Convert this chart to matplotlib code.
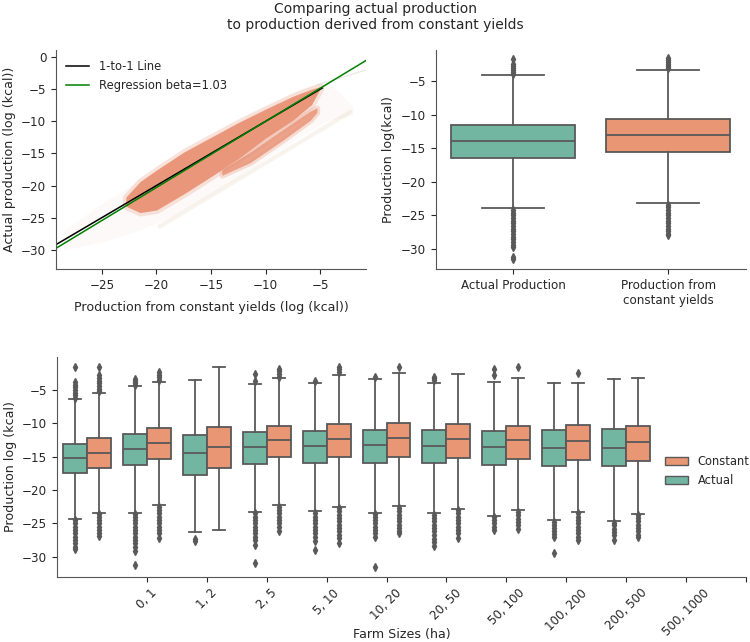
import colorsys
import matplotlib
matplotlib.use("Agg")
import matplotlib.pyplot as plt
import matplotlib.colors as mcolors
from matplotlib.patches import Patch

# ---- data ----
# scatter cloud (drawn as bands): x, upper and lower edge of the dense core
core_x = [-22.8, -21.5, -20.0, -17.5, -15.0, -12.5, -10.0, -7.5, -5.8, -5.0]
core_hi = [-21.8, -19.4, -17.6, -14.8, -12.5, -10.2, -8.1, -6.1, -5.0, -4.6]
core_lo = [-23.2, -24.2, -23.8, -21.3, -18.6, -15.8, -12.6, -9.8, -7.4, -4.9]
# lower branch of the cloud
branch_x = [-14.0, -11.4, -8.4, -5.9, -5.3]
branch_hi = [-17.5, -14.8, -11.3, -8.4, -7.9]
branch_lo = [-18.4, -16.4, -12.9, -9.8, -8.6]
# faint halo around everything
halo_x = [-28.5, -25.0, -22.0, -19.0, -16.0, -13.0, -10.0, -7.0, -4.5, -2.0]
halo_hi = [-27.0, -22.8, -19.6, -16.6, -13.4, -10.5, -7.8, -5.2, -3.6, -7.6]
halo_lo = [-30.0, -28.8, -27.2, -25.2, -22.3, -19.2, -15.8, -12.6, -10.0, -9.0]
streak_x = [-19.7, -2.2]
streak_y = [-26.4, -8.5]
faint_x = [-5.3, -0.8]
faint_y = [-4.35, -2.0]

one_to_one_x = [-29.2, -4.8]
reg_x = [-29.2, -0.8]
reg_beta = 1.03
reg_intercept = 0.3

# overall box plot (Actual, Constant)
overall_labels = ["Actual Production", "Production from\nconstant yields"]
overall_q1 = [-16.45, -15.65]
overall_med = [-13.95, -13.05]
overall_q3 = [-11.55, -10.65]
overall_lo = [-23.95, -23.1]
overall_hi = [-4.1, -3.3]
overall_fliers = [
    [-1.7, -2.5, -2.8, -3.1, -3.4, -3.7, -4.0,
     -24.2, -24.6, -25.0, -25.4, -25.8, -26.2, -26.6, -27.0, -27.4, -27.8,
     -28.2, -28.6, -29.0, -29.4, -29.7, -31.2, -31.5],
    [-1.6, -1.9, -2.2, -2.5, -2.8, -3.1,
     -23.4, -23.8, -24.2, -24.6, -25.0, -25.4, -25.8, -26.2, -26.6, -27.0,
     -27.4, -27.8, -28.0],
]

# by farm size
farm_labels = ["0, 1", "1, 2", "2, 5", "5, 10", "10, 20", "20, 50",
               "50, 100", "100, 200", "200, 500", "500, 1000"]
act_q1 = [-17.5, -16.3, -17.8, -16.1, -15.9, -15.9, -16.0, -16.3, -16.4, -16.45]
act_med = [-15.2, -13.8, -14.5, -13.5, -13.4, -13.25, -13.4, -13.6, -13.65, -13.75]
act_q3 = [-13.1, -11.55, -11.7, -11.25, -11.1, -10.95, -11.05, -11.2, -10.95, -10.9]
act_lo = [-24.3, -23.4, -26.25, -23.3, -23.15, -23.4, -23.45, -23.9, -24.55, -24.65]
act_hi = [-6.35, -4.45, -3.5, -4.1, -3.9, -3.4, -4.0, -3.85, -4.0, -3.4]
act_fliers = [
    [-1.6, -3.8, -4.2, -4.6, -5.0, -5.4, -5.8, -6.2,
     -24.5, -25.0, -25.5, -26.0, -26.5, -27.0, -27.5, -28.0, -28.5, -28.9],
    [-3.4, -3.7, -4.0, -4.3,
     -23.6, -24.0, -24.5, -25.0, -25.5, -26.0, -26.5, -27.0, -27.5, -28.0, -28.5, -29.2, -31.3],
    [-27.4, -27.7],
    [-2.6, -3.6,
     -23.5, -24.0, -24.5, -25.0, -25.5, -26.0, -26.5, -27.0, -27.5, -28.2, -31.0],
    [-3.7,
     -23.4, -24.0, -24.5, -25.0, -25.5, -26.0, -26.5, -27.0, -27.7, -29.0],
    [-3.1,
     -23.6, -24.0, -24.5, -25.0, -25.5, -26.0, -26.5, -27.1, -31.5],
    [-3.0, -3.2, -3.5,
     -23.7, -24.2, -24.7, -25.2, -25.7, -26.2, -26.7, -27.3, -27.8, -28.4],
    [-1.8, -2.7,
     -24.1, -24.5, -25.0, -25.5, -26.0],
    [-24.8, -25.2, -25.7, -26.2, -26.6, -27.0, -29.4],
    [-24.9, -25.3, -25.8, -26.3, -26.8, -27.5],
]
con_q1 = [-16.65, -15.35, -16.75, -15.1, -15.05, -15.0, -15.2, -15.4, -15.45, -15.65]
con_med = [-14.4, -12.9, -13.6, -12.55, -12.4, -12.25, -12.4, -12.5, -12.65, -12.85]
con_q3 = [-12.25, -10.7, -10.6, -10.35, -10.1, -9.9, -10.1, -10.35, -10.3, -10.4]
con_lo = [-23.4, -22.3, -26.0, -22.3, -22.5, -22.45, -22.8, -23.05, -23.25, -23.55]
con_hi = [-5.5, -3.75, -1.6, -3.15, -2.8, -2.4, -2.65, -3.25, -4.0, -3.25]
con_fliers = [
    [-1.5, -2.8, -3.2, -3.6, -4.0, -4.4, -4.8, -5.2,
     -23.6, -24.0, -24.5, -25.0, -25.5, -26.0, -26.5, -26.9],
    [-2.3, -2.7, -3.1, -3.5,
     -22.5, -23.0, -23.5, -24.0, -24.5, -25.0, -25.5, -26.0, -26.5, -27.2],
    [],
    [-1.8, -2.2, -2.6, -3.0,
     -22.5, -23.0, -23.5, -24.0, -24.5, -25.0, -25.5, -26.1],
    [-1.5, -1.9, -2.3,
     -22.7, -23.2, -23.7, -24.2, -24.7, -25.2, -25.7, -26.2, -26.7, -27.2, -27.9],
    [-1.5,
     -22.7, -23.2, -23.7, -24.2, -24.7, -25.2, -25.7, -26.1, -26.5],
    [-23.0, -23.5, -24.0, -24.5, -25.0, -25.5, -26.0, -26.5, -27.2],
    [-1.6,
     -23.3, -23.8, -24.3, -24.8, -25.3, -25.8],
    [-2.4,
     -23.5, -24.0, -24.5, -25.0, -25.5, -26.0, -26.5, -27.0, -27.5],
    [-23.8, -24.2, -24.7, -25.2, -25.7, -26.2, -26.7, -27.1],
]


def desat(c, prop=0.75):
    h, l, s = colorsys.rgb_to_hls(*mcolors.to_rgb(c))
    return colorsys.hls_to_rgb(h, l, s * prop)


green = desat("#66c2a5")
orange = desat("#fc8d62")
gray = "#595959"
text_col = "#262626"

plt.rcParams["font.family"] = "DejaVu Sans"
plt.rcParams["font.size"] = 8.5
plt.rcParams["text.color"] = text_col
plt.rcParams["axes.labelcolor"] = text_col
plt.rcParams["xtick.color"] = text_col
plt.rcParams["ytick.color"] = text_col
plt.rcParams["axes.edgecolor"] = "#555555"
plt.rcParams["xtick.labelsize"] = 8.6
plt.rcParams["ytick.labelsize"] = 8.6
plt.rcParams["axes.labelsize"] = 9.1


def stats(q1, med, q3, lo, hi, fl):
    return dict(q1=q1, med=med, q3=q3, whislo=lo, whishi=hi, fliers=fl)


def draw_boxes(ax, st, pos, width, color):
    ax.bxp(st, positions=pos, widths=width, patch_artist=True,
           boxprops=dict(facecolor=color, edgecolor=gray, linewidth=1.3),
           medianprops=dict(color=gray, linewidth=1.3),
           whiskerprops=dict(color=gray, linewidth=1.3),
           capprops=dict(color=gray, linewidth=1.3),
           flierprops=dict(marker="d", markersize=4, markerfacecolor=gray,
                           markeredgecolor=gray, linestyle="none"),
           manage_ticks=False)


fig = plt.figure(figsize=(7.5, 6.42), dpi=100)
fig.suptitle("Comparing actual production\nto production derived from constant yields",
             fontsize=10, y=0.997, va="top")

# ---- top left: scatter ----
ax1 = fig.add_axes([0.0747, 0.581, 0.4133, 0.341])
ax1.fill_between(halo_x, halo_lo, halo_hi, color="#d8b89c", alpha=0.07, lw=0)
ax1.plot(streak_x, streak_y, color="#d2b48c", alpha=0.15, lw=3, solid_capstyle="round")
ax1.plot(faint_x, faint_y, color="#e0d6d0", alpha=0.5, lw=1)
ax1.fill_between(branch_x, branch_lo, branch_hi, color="#e9967a", alpha=0.3, lw=4,
                 edgecolor="#e9967a")
ax1.fill_between(branch_x, branch_lo, branch_hi, color="#e9967a", alpha=0.8, lw=0)
ax1.fill_between(core_x, core_lo, core_hi, color="#e9967a", alpha=0.25, lw=5,
                 edgecolor="#e9967a")
ax1.fill_between(core_x, core_lo, core_hi, color="#e9967a", lw=0)
ax1.plot(one_to_one_x, one_to_one_x, color="black", lw=1.1, label="1-to-1 Line")
reg_y = [reg_intercept + reg_beta * v for v in reg_x]
ax1.plot(reg_x, reg_y, color="green", lw=1.1, label="Regression beta=1.03")
ax1.set_xlim(-29.2, -0.8)
ax1.set_ylim(-33.0, 1.1)
ax1.set_xticks([-25, -20, -15, -10, -5])
ax1.set_yticks([0, -5, -10, -15, -20, -25, -30])
ax1.set_xlabel("Production from constant yields (log (kcal))", labelpad=7)
ax1.set_ylabel("Actual production (log (kcal))")
ax1.legend(loc="upper left", frameon=False, fontsize=8.3)

# ---- top right: overall box plot ----
ax2 = fig.add_axes([0.581, 0.581, 0.4133, 0.341])
cols = [green, orange]
for i in range(2):
    st = [stats(overall_q1[i], overall_med[i], overall_q3[i],
                overall_lo[i], overall_hi[i], overall_fliers[i])]
    draw_boxes(ax2, st, [i], 0.8, cols[i])
ax2.set_xlim(-0.5, 1.5)
ax2.set_ylim(-33.0, -0.4)
ax2.set_xticks([0, 1])
ax2.set_xticklabels(overall_labels)
ax2.set_yticks([-5, -10, -15, -20, -25, -30])
ax2.set_ylabel("Production log(kcal)")

# ---- bottom: by farm size ----
ax3 = fig.add_axes([0.076, 0.1017, 0.9187, 0.3427])
for i in range(len(farm_labels)):
    draw_boxes(ax3, [stats(act_q1[i], act_med[i], act_q3[i], act_lo[i], act_hi[i],
                           act_fliers[i])], [i - 0.2], 0.4, green)
    draw_boxes(ax3, [stats(con_q1[i], con_med[i], con_q3[i], con_lo[i], con_hi[i],
                           con_fliers[i])], [i + 0.2], 0.4, orange)
ax3.set_xlim(-0.5, 11.0)
ax3.set_ylim(-33.0, 0.0)
ax3.set_xticks(list(range(1, len(farm_labels) + 2)))
ax3.set_xticklabels(farm_labels + [""], rotation=45)
ax3.set_yticks([-5, -10, -15, -20, -25, -30])
ax3.set_xlabel("Farm Sizes (ha)")
ax3.xaxis.set_label_coords(0.5, -0.235)
ax3.set_ylabel("Production log (kcal)")
handles = [Patch(facecolor=orange, edgecolor=gray, label="Constant"),
           Patch(facecolor=green, edgecolor=gray, label="Actual")]
ax3.legend(handles=handles, loc="center right", bbox_to_anchor=(1.02, 0.48),
           frameon=False, fontsize=8.3)

for ax in (ax1, ax2, ax3):
    ax.spines["top"].set_visible(False)
    ax.spines["right"].set_visible(False)

fig.savefig("out.png", dpi=100)
